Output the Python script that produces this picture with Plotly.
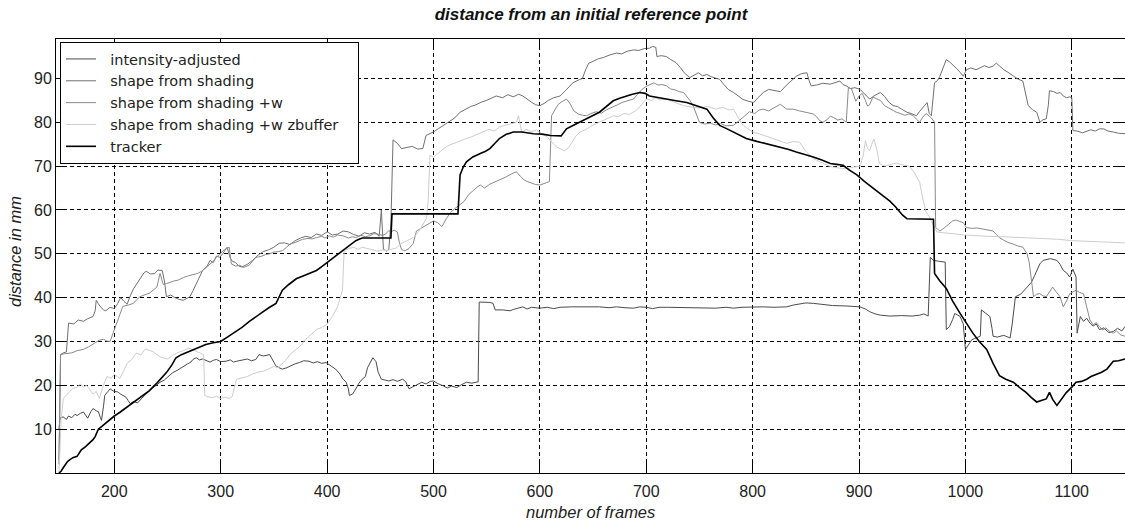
import plotly.graph_objects as go

# ---------------- data ----------------
int_x = [148, 149, 152, 155, 157, 160, 163, 165, 168, 171, 173, 175, 178, 180, 183, 185, 187, 188, 190, 191, 194, 196, 199, 203, 206, 209, 211, 213, 215, 218, 222, 226, 229, 233, 236, 240, 243, 247, 252, 255, 259, 262, 265, 269, 272, 274, 277, 280, 283, 287, 290, 293, 296, 300, 305, 309, 312, 315, 320, 325, 329, 333, 336, 340, 346, 349, 352, 355, 358, 362, 366, 370, 374, 378, 383, 387, 391, 395, 399, 403, 408, 412, 415, 418, 420, 421, 424, 427, 430, 433, 436, 438, 441, 443, 446, 448, 451, 455, 458, 462, 466, 471, 474, 477, 481, 485, 489, 493, 497, 500, 504, 509, 513, 517, 522, 526, 531, 536, 542, 543, 549, 553, 556, 558, 565, 572, 575, 580, 584, 588, 592, 600, 607, 613, 619, 630, 640, 650, 656, 665, 672, 680, 688, 694, 700, 706, 712, 720, 735, 750, 765, 775, 782, 790, 801, 810, 820, 832, 838, 844, 850, 857, 865, 875, 888, 901, 906, 910, 915, 920, 929, 940, 950, 957, 961, 965, 967, 970, 975, 981, 982, 985, 988, 990, 995, 998, 1000, 1003, 1006, 1010, 1014, 1015, 1019, 1023, 1025, 1026, 1030, 1036, 1042, 1044, 1047, 1052, 1058, 1062, 1065, 1070, 1073, 1080, 1086, 1089, 1092, 1095, 1098, 1101, 1104, 1105, 1108, 1111, 1114, 1117, 1120, 1123, 1126, 1130, 1135, 1139, 1143, 1147, 1150]
int_y = [10.0, 12.5, 12.8, 12.2, 13.0, 12.6, 13.4, 13.1, 13.6, 13.9, 13.2, 12.5, 14.0, 14.7, 14.2, 14.0, 12.6, 12.0, 15.5, 17.7, 18.6, 19.2, 18.7, 18.5, 18.0, 17.6, 17.3, 16.5, 15.8, 16.3, 16.0, 17.1, 17.8, 18.8, 19.4, 20.1, 20.7, 21.2, 22.2, 22.9, 23.4, 23.9, 24.4, 24.9, 25.3, 25.9, 26.3, 25.8, 26.0, 25.5, 25.3, 25.7, 25.9, 25.4, 25.5, 25.8, 25.3, 25.5, 25.7, 26.0, 25.6, 25.9, 27.0, 26.7, 27.0, 25.6, 24.4, 24.0, 23.7, 24.0, 24.5, 24.9, 25.2, 25.6, 25.5, 25.1, 25.4, 25.0, 25.2, 24.6, 23.7, 22.6, 21.4, 20.7, 19.2, 17.7, 18.0, 19.2, 20.5, 21.4, 22.0, 24.0, 25.6, 26.3, 25.4, 23.0, 21.4, 21.2, 21.0, 21.3, 20.9, 21.4, 20.8, 19.2, 19.7, 20.1, 20.7, 20.3, 20.9, 21.0, 20.4, 19.9, 19.4, 19.8, 19.5, 20.1, 20.7, 20.5, 20.8, 39.0, 39.0, 38.9, 38.7, 37.2, 37.2, 37.0, 37.3, 37.6, 37.9, 37.4, 37.8, 37.6, 37.8, 37.5, 37.8, 37.9, 37.9, 37.8, 37.9, 37.7, 37.9, 37.7, 37.6, 37.9, 37.8, 37.5, 37.8, 37.8, 37.7, 37.7, 37.6, 37.8, 37.6, 37.8, 37.9, 37.9, 37.8, 37.9, 38.3, 38.5, 38.8, 38.7, 38.4, 38.2, 38.1, 37.9, 37.4, 36.8, 36.3, 36.0, 35.8, 35.9, 35.8, 36.0, 36.3, 35.8, 49.2, 48.5, 48.3, 48.1, 32.7, 33.4, 35.0, 36.4, 35.7, 34.0, 28.2, 29.3, 30.4, 30.8, 31.2, 37.2, 36.4, 35.7, 33.0, 31.2, 31.0, 31.4, 30.8, 34.0, 40.2, 40.8, 42.4, 43.5, 45.0, 47.7, 48.5, 48.9, 48.5, 47.6, 46.2, 45.7, 44.7, 46.5, 44.7, 31.9, 35.7, 34.6, 35.3, 34.2, 33.5, 34.0, 32.7, 33.1, 32.0, 32.3, 33.0, 32.4, 33.4]

sfs_x = [148, 149.5, 152, 155, 157, 162, 166, 171, 175, 180, 182, 183, 185, 187, 190, 192, 196, 200, 203, 206, 209, 212, 215, 218, 221, 225, 228, 230, 234, 238, 241, 245, 247, 249, 253, 257, 261, 265, 268, 271, 274, 277, 280, 283, 287, 290, 293, 296, 299, 302, 304, 306, 309, 311, 314, 317, 320, 325, 330, 335, 340, 345, 350, 355, 360, 365, 370, 375, 380, 385, 390, 395, 400, 405, 410, 415, 420, 425, 430, 435, 440, 445, 449, 451, 453, 456, 458, 460, 462, 466, 470, 475, 480, 485, 490, 493, 497, 500, 505, 510, 515, 520, 525, 530, 535, 540, 545, 550, 555, 559, 565, 570, 575, 580, 584, 588, 592, 596, 600, 604, 608, 613, 619, 624, 628, 631, 636, 640, 643, 646, 650, 655, 660, 665, 672, 677, 682, 688, 693, 698, 703, 706, 709, 710, 714, 719, 723, 728, 732, 736, 741, 745, 749, 753, 757, 761, 765, 769, 773, 777, 782, 786, 791, 796, 801, 805, 810, 815, 820, 826, 832, 838, 841, 846, 851, 853, 855, 860, 866, 873, 878, 882, 885, 888, 892, 896, 901, 905, 910, 914, 917, 920, 924, 928, 932, 936, 940, 945, 949, 954, 957, 960, 962, 964, 966, 968, 971, 974, 976, 979, 982, 985, 988, 992, 995, 998, 1001, 1005, 1010, 1014, 1018, 1022, 1026, 1029, 1032, 1036, 1040, 1045, 1049, 1054, 1056, 1059, 1063, 1067, 1070, 1073, 1076, 1078, 1079, 1083, 1086, 1089, 1092, 1095, 1098, 1100, 1101, 1105, 1110, 1114, 1118, 1122, 1126, 1130, 1134, 1139, 1144, 1150]
sfs_y = [2.0, 27.0, 27.4, 27.6, 34.2, 34.0, 34.9, 34.6, 35.2, 35.7, 37.0, 39.4, 38.6, 37.9, 37.2, 37.0, 37.8, 37.5, 38.6, 40.0, 39.2, 38.5, 40.4, 42.0, 43.1, 44.5, 45.7, 46.0, 45.4, 45.5, 46.3, 46.2, 44.0, 40.2, 40.6, 40.0, 39.6, 39.4, 39.8, 40.2, 41.6, 43.2, 44.5, 46.2, 47.1, 48.5, 48.0, 49.5, 49.2, 50.0, 50.8, 51.5, 49.0, 48.3, 48.0, 47.2, 47.0, 47.6, 48.5, 49.7, 50.5, 50.9, 51.5, 52.4, 52.5, 52.1, 53.0, 53.6, 54.0, 53.7, 54.5, 54.2, 55.0, 54.3, 54.5, 55.2, 55.0, 54.4, 54.0, 54.8, 54.5, 54.9, 54.0, 60.0, 51.0, 50.6, 51.0, 57.0, 76.0, 75.2, 74.0, 74.3, 74.5, 73.9, 74.0, 77.0, 77.4, 77.8, 78.6, 79.4, 80.2, 81.0, 82.3, 83.0, 83.6, 84.0, 84.6, 85.0, 85.6, 86.0, 85.6, 86.3, 85.8, 86.4, 86.0, 85.2, 84.6, 84.0, 83.8, 84.3, 85.0, 85.6, 86.0, 87.2, 88.3, 89.0, 89.6, 90.0, 92.0, 93.5, 93.9, 94.5, 94.8, 95.3, 95.8, 95.6, 96.2, 96.5, 96.4, 96.8, 96.9, 97.3, 97.1, 95.0, 95.2, 95.0, 94.3, 93.6, 92.5, 91.2, 90.2, 90.7, 91.3, 90.6, 90.9, 90.4, 90.1, 89.8, 88.6, 87.5, 86.8, 86.0, 85.2, 84.8, 84.5, 85.6, 86.8, 87.5, 87.3, 87.0, 88.5, 89.8, 90.5, 91.1, 91.3, 89.6, 88.3, 88.5, 88.9, 88.7, 89.1, 89.4, 88.6, 88.3, 87.7, 87.9, 87.5, 86.5, 85.3, 86.0, 86.5, 86.8, 85.9, 84.6, 83.8, 83.6, 83.0, 82.3, 82.0, 81.5, 82.5, 83.4, 84.0, 84.5, 82.0, 81.5, 89.0, 89.6, 90.5, 92.5, 94.3, 93.8, 93.2, 92.2, 91.4, 90.5, 92.0, 92.4, 92.0, 92.4, 92.9, 92.5, 92.8, 93.5, 92.8, 92.0, 91.4, 90.5, 89.9, 89.4, 87.0, 83.8, 82.9, 82.3, 80.0, 80.6, 80.8, 84.0, 87.2, 87.0, 86.6, 86.8, 86.0, 85.6, 85.8, 85.6, 78.1, 78.0, 77.6, 77.9, 78.3, 78.0, 78.5, 78.5, 78.0, 77.8, 77.5, 77.4]

sfsw_x = [148, 149.5, 153, 157, 160, 165, 171, 176, 182, 186, 190, 193, 196, 199, 202, 205, 208, 213, 218, 221, 224, 228, 233, 237, 240, 243, 246, 249, 252, 256, 260, 265, 270, 274, 278, 282, 286, 290, 293, 296, 299, 302, 305, 308, 310, 314, 318, 321, 324, 327, 330, 333, 338, 342, 346, 350, 354, 358, 362, 365, 370, 374, 377, 382, 386, 390, 395, 398, 402, 406, 410, 415, 420, 424, 427, 432, 436, 440, 444, 448, 452, 455, 458, 460, 463, 466, 468, 470, 473, 477, 481, 484, 488, 492, 496, 500, 504, 508, 512, 516, 520, 525, 529, 533, 537, 541, 544, 548, 553, 558, 563, 568, 573, 578, 582, 585, 588, 592, 596, 600, 603, 606, 609, 611, 614, 617, 620, 625, 628, 632, 636, 640, 644, 648, 653, 658, 663, 668, 673, 678, 683, 688, 692, 696, 700, 704, 707, 711, 715, 719, 723, 727, 731, 735, 738, 741, 744, 747, 750, 755, 760, 765, 770, 775, 782, 788, 793, 797, 802, 806, 810, 815, 820, 826, 832, 838, 844, 850, 857, 860, 863, 866, 870, 873, 876, 880, 884, 888, 889, 890, 893, 895, 897, 900, 903, 906, 908, 910, 913, 916, 920, 924, 928, 932, 935, 939, 943, 947, 951, 954, 957, 960, 963, 966, 968, 971, 972, 974, 976, 980, 984, 988, 991, 995, 998, 1001, 1006, 1011, 1016, 1020, 1023, 1026, 1029, 1032, 1036, 1040, 1045, 1049, 1054, 1056, 1058, 1060, 1061, 1063, 1064, 1067, 1070, 1073, 1076, 1079, 1082, 1085, 1089, 1092, 1095, 1098, 1101, 1104, 1107, 1111, 1114, 1117, 1120, 1123, 1126, 1129, 1132, 1136, 1139, 1142, 1146, 1150]
sfsw_y = [3.0, 27.0, 27.2, 27.4, 27.4, 27.9, 28.2, 28.8, 29.7, 30.3, 30.5, 30.1, 30.0, 32.0, 34.2, 36.0, 38.0, 38.3, 38.7, 39.5, 40.2, 40.6, 41.0, 41.8, 42.4, 45.5, 43.0, 43.2, 43.5, 43.8, 44.0, 44.6, 45.0, 45.3, 45.5, 46.0, 46.8, 47.5, 48.3, 49.2, 49.8, 50.7, 51.1, 51.5, 47.7, 47.2, 47.4, 46.9, 47.1, 47.5, 48.3, 49.2, 49.4, 49.8, 50.0, 50.4, 50.5, 50.7, 51.5, 52.2, 52.6, 53.0, 53.3, 53.5, 53.4, 53.7, 54.0, 53.6, 54.1, 53.8, 54.3, 54.1, 53.6, 53.9, 53.7, 54.2, 53.9, 54.1, 54.6, 54.5, 54.2, 54.5, 55.3, 55.0, 55.4, 55.0, 52.5, 51.0, 50.7, 51.2, 52.4, 55.2, 55.8, 56.4, 56.9, 57.5, 57.1, 56.2, 58.0, 59.4, 60.3, 61.2, 62.0, 63.5, 64.4, 65.2, 65.7, 65.0, 65.9, 66.4, 66.9, 67.5, 68.2, 68.7, 67.6, 66.9, 66.5, 66.2, 65.8, 65.7, 65.9, 66.2, 66.5, 81.5, 82.8, 84.0, 84.6, 85.3, 84.4, 82.6, 81.9, 81.6, 81.5, 82.0, 82.4, 82.1, 82.9, 83.4, 84.0, 84.6, 85.0, 85.3, 86.4, 87.5, 88.2, 88.6, 89.0, 88.5, 88.6, 88.3, 87.6, 87.4, 87.0, 86.8, 86.0, 85.0, 83.8, 81.8, 80.0, 79.6, 79.8, 79.4, 79.7, 79.2, 79.3, 80.5, 81.6, 82.4, 82.0, 82.8, 83.0, 82.6, 83.3, 84.1, 83.0, 83.0, 82.6, 82.3, 81.9, 81.3, 80.4, 80.0, 80.6, 81.4, 81.1, 80.5, 80.8, 80.0, 84.0, 87.9, 87.6, 86.2, 84.8, 86.0, 86.6, 85.0, 83.7, 84.0, 85.8, 85.4, 85.0, 83.8, 83.2, 82.6, 82.3, 82.0, 81.6, 81.9, 81.5, 80.7, 80.0, 81.2, 82.0, 81.4, 81.0, 80.0, 56.0, 55.6, 55.2, 55.9, 56.8, 57.5, 57.7, 57.4, 57.1, 56.0, 55.8, 55.9, 55.7, 55.6, 55.4, 55.2, 54.4, 53.7, 53.1, 52.6, 52.2, 51.8, 51.5, 50.8, 50.0, 48.0, 46.2, 42.0, 40.2, 40.8, 40.9, 40.4, 40.2, 41.3, 42.4, 41.4, 40.2, 37.9, 39.2, 40.9, 41.3, 41.7, 41.2, 40.9, 37.9, 34.9, 33.8, 34.3, 33.4, 32.6, 33.1, 32.2, 31.9, 32.4, 31.5, 31.2]

zb_x = [148, 149, 150, 152, 155, 158, 161, 165, 168, 171, 174, 177, 180, 183, 186, 189, 193, 197, 200, 203, 205, 209, 212, 216, 221, 225, 229, 233, 237, 240, 244, 250, 255, 260, 265, 270, 275, 280, 284, 285, 288, 292, 296, 300, 304, 308, 311, 313, 315, 320, 325, 330, 335, 340, 345, 350, 354, 358, 362, 365, 370, 375, 380, 385, 390, 395, 400, 405, 410, 413, 414.5, 416, 420, 425, 429, 433, 438, 443, 448, 452, 456, 460, 465, 468.5, 474, 481, 486, 490, 493.6, 495, 496.7, 500, 505, 510, 515, 520, 526, 531, 536, 541, 547, 552, 557, 562, 567, 572, 578, 580, 583, 587, 592, 597, 602, 607, 612, 616, 619, 623, 627, 631, 634, 638, 643, 648, 652, 656.5, 661, 665, 669, 674, 679, 684, 688, 692, 696, 700, 705, 709, 713, 719, 724, 729, 735, 742, 750, 758, 765, 772, 778, 782, 786, 790, 795, 800, 806, 812, 818, 825, 832, 838, 844, 850, 857, 864, 872, 880, 888, 895, 901, 904, 906, 908, 910, 912, 914, 917, 919, 922, 925, 930, 935, 941, 947, 952, 957, 960, 963, 966, 968, 970, 973, 979, 986, 992, 998, 1010, 1020, 1035, 1050, 1063, 1076, 1088, 1100, 1112, 1125, 1137, 1150]
zb_y = [0.0, 8.0, 12.0, 17.0, 17.8, 18.5, 19.3, 19.5, 20.3, 19.6, 20.0, 19.0, 18.0, 18.6, 17.0, 19.5, 22.0, 21.6, 22.5, 22.0, 21.5, 23.4, 25.0, 25.8, 27.4, 26.9, 28.3, 28.0, 27.6, 27.0, 26.4, 26.0, 26.9, 27.5, 27.9, 28.5, 27.9, 27.4, 27.0, 17.7, 17.4, 17.2, 17.5, 17.0, 17.3, 17.0, 17.5, 19.8, 21.4, 21.7, 22.0, 22.6, 23.0, 23.2, 23.7, 24.3, 24.0, 25.0, 26.0, 27.0, 28.0, 29.0, 30.5, 31.6, 32.7, 33.2, 34.0, 35.7, 38.0, 40.5, 41.7, 50.7, 51.2, 51.5, 51.0, 51.5, 51.2, 50.9, 50.6, 50.9, 50.7, 51.0, 51.3, 52.2, 52.8, 53.7, 55.0, 56.8, 58.2, 62.0, 72.5, 72.0, 73.0, 74.1, 74.8, 75.3, 75.9, 76.3, 76.7, 77.2, 77.8, 78.4, 78.0, 78.9, 79.3, 79.6, 80.0, 81.5, 77.6, 78.4, 77.9, 78.2, 77.4, 76.6, 75.3, 74.3, 74.0, 73.5, 74.2, 75.8, 76.9, 77.8, 78.3, 79.1, 79.6, 80.0, 80.6, 81.0, 81.5, 81.3, 82.0, 81.8, 82.3, 83.0, 84.1, 85.3, 85.0, 85.6, 85.1, 85.3, 84.8, 84.3, 83.8, 83.5, 83.3, 83.6, 83.0, 83.4, 82.8, 83.0, 81.2, 79.6, 78.6, 77.8, 77.4, 76.9, 76.4, 75.8, 75.2, 75.6, 75.5, 73.4, 71.7, 70.9, 70.0, 69.6, 69.4, 69.8, 70.0, 72.5, 75.8, 74.0, 73.5, 75.0, 76.2, 73.5, 70.7, 70.2, 70.0, 70.4, 70.7, 70.3, 70.0, 68.5, 66.3, 62.5, 59.5, 58.5, 57.6, 56.5, 55.0, 54.8, 54.7, 54.5, 54.3, 54.1, 54.0, 53.9, 53.7, 53.6, 53.5, 53.3, 53.0, 52.9, 52.8, 52.6, 52.5]

trk_x = [148, 150, 152, 154, 156, 158, 161, 165, 167, 169, 173, 177, 180, 182, 185, 188, 192, 196, 200, 205, 210, 215, 220, 226, 233, 240, 245, 249, 254, 258, 263, 267, 271, 278, 286, 293, 300, 307, 315, 320, 327, 333, 340, 346, 352, 355, 358, 364, 371, 378, 385, 390, 395, 400, 406, 411, 415, 420, 424, 427, 430, 433, 445, 460, 461, 480, 500, 523, 525, 528, 531, 537, 544, 549, 553, 558, 562, 568, 575, 583, 594, 602, 610, 620, 625, 633, 641, 648, 656, 662, 669, 675, 681, 687, 694, 699, 703, 711, 719, 728, 738, 748, 757, 763, 769, 776, 782, 788, 794, 803, 813, 820, 826, 834, 841, 849, 857, 865, 873, 879, 885, 891, 898, 905, 913, 921, 929, 934, 938, 941, 945, 955, 962, 970, 971, 976, 982, 988, 995, 1001, 1007, 1013, 1020, 1026, 1032, 1038, 1045, 1051, 1057, 1062, 1067, 1072, 1076, 1079, 1082, 1086, 1090, 1095, 1100, 1104, 1109, 1114, 1118, 1123, 1128, 1133, 1136, 1139, 1144, 1150]
trk_y = [0.0, 0.4, 1.2, 1.9, 2.6, 3.0, 3.5, 3.8, 4.6, 5.3, 6.0, 6.8, 7.6, 8.3, 10.0, 10.6, 11.4, 12.3, 13.0, 13.8, 14.7, 15.6, 16.5, 17.6, 18.8, 20.5, 21.8, 22.9, 24.6, 26.3, 27.0, 27.4, 27.8, 28.5, 29.3, 29.7, 30.0, 31.1, 32.3, 33.2, 34.6, 35.7, 36.8, 37.8, 38.7, 40.2, 41.7, 43.0, 44.3, 45.0, 45.8, 46.2, 47.1, 48.0, 49.2, 50.0, 50.7, 51.8, 52.5, 53.0, 53.3, 53.6, 53.6, 53.6, 59.1, 59.1, 59.1, 59.1, 68.0, 69.8, 71.0, 72.1, 72.9, 73.4, 74.0, 75.2, 76.3, 77.2, 77.8, 77.8, 77.4, 77.3, 77.0, 76.9, 78.5, 79.5, 80.4, 81.3, 82.3, 83.5, 84.9, 85.5, 86.0, 86.4, 86.8, 86.6, 86.0, 85.7, 85.3, 84.9, 84.5, 83.8, 83.0, 81.0, 79.3, 78.5, 77.8, 77.0, 76.3, 75.7, 75.1, 74.7, 74.4, 73.8, 73.2, 72.7, 72.1, 71.4, 70.6, 70.4, 70.2, 69.1, 68.0, 66.5, 65.0, 63.5, 62.0, 60.8, 59.7, 58.8, 58.0, 58.0, 57.9, 57.9, 45.5, 43.8, 42.1, 39.2, 36.4, 34.1, 31.9, 30.0, 28.2, 25.0, 22.2, 21.4, 20.7, 19.5, 18.4, 17.2, 16.2, 16.6, 16.9, 18.4, 16.8, 15.4, 16.8, 18.4, 19.6, 20.7, 20.9, 21.4, 22.0, 22.5, 23.0, 23.7, 24.5, 25.5, 25.6, 26.0]

x_ticks = [200, 300, 400, 500, 600, 700, 800, 900, 1000, 1100]
y_ticks = [10, 20, 30, 40, 50, 60, 70, 80, 90]
names = ["intensity-adjusted", "shape from shading", "shape from shading +w",
         "shape from shading +w zbuffer", "tracker"]

# ---------------- figure ----------------
W, H = 1125, 523
ML, MR, MT, MB = 56, 0, 39, 50
PW, PH = W - ML - MR, H - MT - MB

styles = [("#4b4b4b", 1.0), ("#707070", 1.0), ("#8a8a8a", 1.0), ("#cdcdcd", 1.0), ("#000000", 1.6)]
data = [(int_x, int_y), (sfs_x, sfs_y), (sfsw_x, sfsw_y), (zb_x, zb_y), (trk_x, trk_y)]

NB = "\u00a0"
fig = go.Figure()
for (xs, ys), nm, (col, w) in zip(data, names, styles):
    fig.add_trace(go.Scatter(x=xs, y=ys, mode="lines", name=NB * 2 + nm + NB * 3,
                             line=dict(color=col, width=w), hoverinfo="skip"))

axis_common = dict(
    showline=True, linecolor="black", linewidth=1, mirror="ticks",
    ticks="inside", ticklen=10, tickwidth=1, tickcolor="black",
    showgrid=True, gridcolor="black", gridwidth=1, griddash="4px,3px",
    zeroline=False, tickfont=dict(family="Liberation Sans", size=16, color="#222222"),
)
fig.update_xaxes(range=[145.2, 1150], tickmode="array", tickvals=x_ticks,
                 ticktext=[str(v) for v in x_ticks], ticklabelstandoff=4, **axis_common)
fig.update_yaxes(range=[0, 99], tickmode="array", tickvals=y_ticks,
                 ticktext=[str(v) for v in y_ticks], **axis_common)

fig.update_layout(
    width=W, height=H,
    margin=dict(l=ML, r=MR, t=MT, b=MB, pad=0),
    paper_bgcolor="white", plot_bgcolor="white",
    title=dict(text="<b><i>distance from an initial reference point</i></b>",
               x=591 / W, xanchor="center", y=1 - 14 / H, yanchor="middle",
               font=dict(family="Liberation Sans", size=17, color="#111111")),
    legend=dict(x=4 / PW, xanchor="left", y=1 - 3 / PH, yanchor="top",
                bgcolor="white", bordercolor="black", borderwidth=1,
                font=dict(family="DejaVu Sans", size=14.5, color="#222222"),
                tracegroupgap=0),
    showlegend=True,
    annotations=[
        dict(text="<i>number of frames</i>", xref="paper", yref="paper",
             x=(590 - ML) / PW, y=-(512 - (H - MB)) / PH, xanchor="center", yanchor="middle",
             showarrow=False, font=dict(family="Liberation Sans", size=16.5, color="#222222")),
        dict(text="<i>distance in mm</i>", xref="paper", yref="paper",
             x=(15 - ML) / PW, y=((H - MB) - 252) / PH, xanchor="center", yanchor="middle",
             textangle=-90, showarrow=False,
             font=dict(family="Liberation Sans", size=16.5, color="#222222")),
    ],
)

fig.write_html("out.html", config={"displayModeBar": False},
               post_script="document.body.style.margin='0';document.body.style.overflow='hidden';")
